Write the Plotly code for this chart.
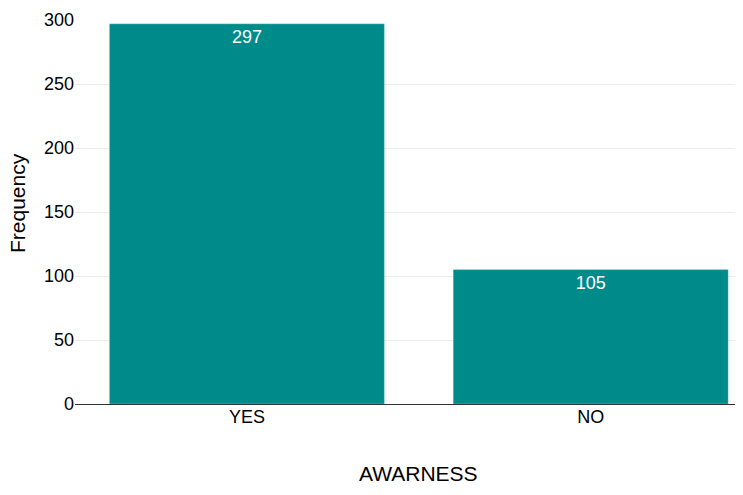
import plotly.graph_objects as go

categories = ["YES", "NO"]
frequency = [297, 105]
y_ticks = [0, 50, 100, 150, 200, 250, 300]

FONT = "Liberation Sans, Arial, sans-serif"

fig = go.Figure()
fig.add_trace(go.Bar(
    x=categories,
    y=frequency,
    text=[str(v) for v in frequency],
    textposition="inside",
    insidetextanchor="end",
    textfont=dict(color="white", size=18, family=FONT),
    marker=dict(color="#008B8B", line=dict(color="rgba(255,255,255,0.25)", width=1)),
    width=0.8,
    hoverinfo="x+y",
))

fig.update_layout(
    width=735,
    height=487,
    margin=dict(l=67, r=0, t=12, b=91),
    plot_bgcolor="white",
    paper_bgcolor="white",
    font=dict(family=FONT, size=18, color="black"),
    showlegend=False,
    xaxis=dict(
        type="category",
        range=[-0.5, 1.443],
        showline=True,
        linecolor="#333333",
        linewidth=1,
        showgrid=False,
        ticks="",
        ticklabelstandoff=-4,
        tickfont=dict(size=18),
    ),
    yaxis=dict(
        range=[0, 300],
        tickvals=y_ticks,
        showgrid=True,
        gridcolor="#ebebeb",
        gridwidth=1,
        zeroline=False,
        showline=False,
        ticks="",
        tickfont=dict(size=18),
    ),
    annotations=[
        dict(
            text="AWARNESS",
            xref="paper", yref="paper",
            x=0.5135, y=-0.181,
            xanchor="center", yanchor="middle",
            showarrow=False,
            font=dict(size=21),
        ),
        dict(
            text="Frequency",
            xref="paper", yref="paper",
            x=-0.0868, y=0.5234,
            xanchor="center", yanchor="middle",
            textangle=-90,
            showarrow=False,
            font=dict(size=21),
        ),
    ],
)

fig.write_html("out.html")
